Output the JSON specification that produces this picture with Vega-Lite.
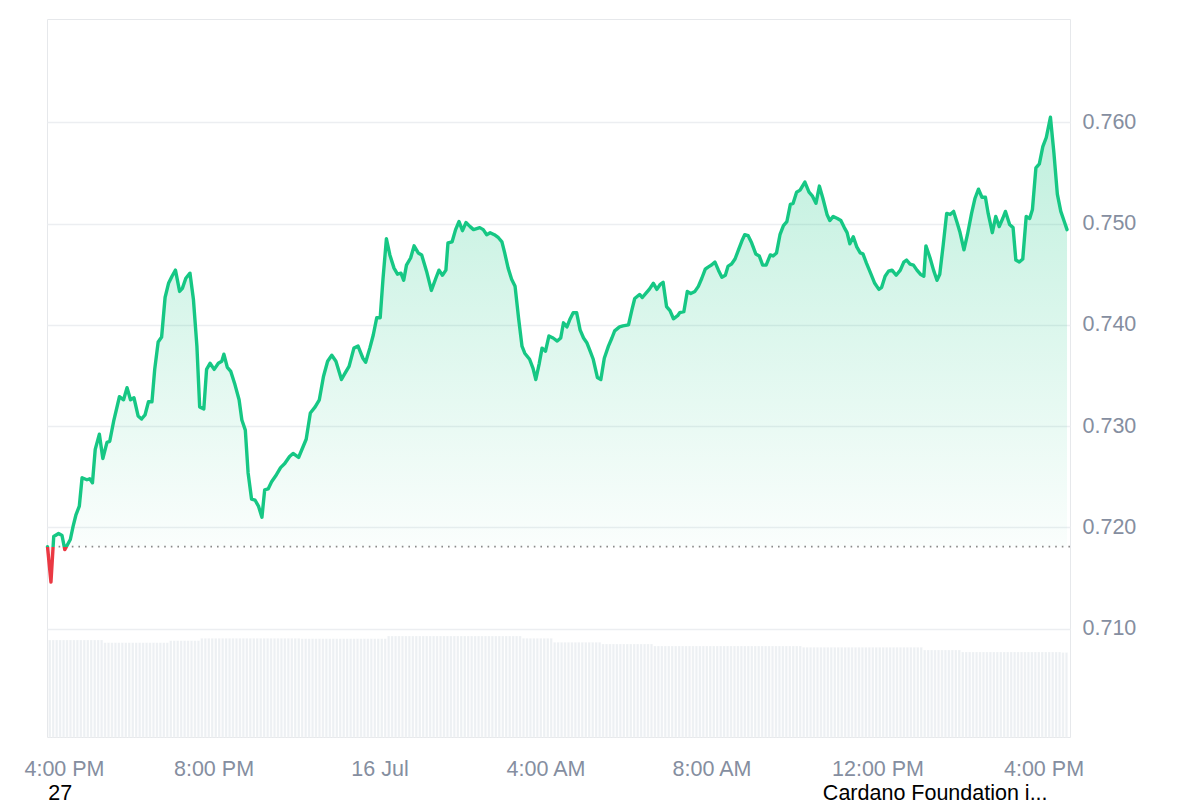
{
  "$schema": "https://vega.github.io/schema/vega-lite/v6.json",
  "width": 1023,
  "height": 718,
  "autosize": {"type": "none"},
  "padding": {"left": 47, "top": 19, "right": 130, "bottom": 63},
  "background": "#ffffff",
  "config": {
    "font": "Liberation Sans",
    "view": {"stroke": "#e6e8eb", "strokeWidth": 1}
  },
  "datasets": {
    "price": [
      {"t":"2025-07-15T16:00Z","p":0.7181},{"t":"2025-07-15T16:05Z","p":0.7146},{"t":"2025-07-15T16:09Z","p":0.7191},{"t":"2025-07-15T16:16Z","p":0.7194},
      {"t":"2025-07-15T16:21Z","p":0.7192},{"t":"2025-07-15T16:25Z","p":0.7178},{"t":"2025-07-15T16:33Z","p":0.7188},{"t":"2025-07-15T16:37Z","p":0.7201},
      {"t":"2025-07-15T16:41Z","p":0.7212},{"t":"2025-07-15T16:46Z","p":0.7221},{"t":"2025-07-15T16:50Z","p":0.7249},{"t":"2025-07-15T16:57Z","p":0.7247},
      {"t":"2025-07-15T17:01Z","p":0.7248},{"t":"2025-07-15T17:05Z","p":0.7244},{"t":"2025-07-15T17:09Z","p":0.7277},{"t":"2025-07-15T17:15Z","p":0.7292},
      {"t":"2025-07-15T17:20Z","p":0.7268},{"t":"2025-07-15T17:26Z","p":0.7284},{"t":"2025-07-15T17:30Z","p":0.7285},{"t":"2025-07-15T17:36Z","p":0.7306},
      {"t":"2025-07-15T17:44Z","p":0.7329},{"t":"2025-07-15T17:50Z","p":0.7326},{"t":"2025-07-15T17:55Z","p":0.7338},{"t":"2025-07-15T18:00Z","p":0.7326},
      {"t":"2025-07-15T18:05Z","p":0.7328},{"t":"2025-07-15T18:11Z","p":0.7310},{"t":"2025-07-15T18:16Z","p":0.7307},{"t":"2025-07-15T18:21Z","p":0.7311},
      {"t":"2025-07-15T18:26Z","p":0.7324},{"t":"2025-07-15T18:31Z","p":0.7324},{"t":"2025-07-15T18:35Z","p":0.7356},{"t":"2025-07-15T18:40Z","p":0.7383},
      {"t":"2025-07-15T18:45Z","p":0.7388},{"t":"2025-07-15T18:50Z","p":0.7427},{"t":"2025-07-15T18:55Z","p":0.7441},{"t":"2025-07-15T19:00Z","p":0.7448},
      {"t":"2025-07-15T19:05Z","p":0.7454},{"t":"2025-07-15T19:11Z","p":0.7433},{"t":"2025-07-15T19:15Z","p":0.7436},{"t":"2025-07-15T19:20Z","p":0.7446},
      {"t":"2025-07-15T19:26Z","p":0.7451},{"t":"2025-07-15T19:31Z","p":0.7425},{"t":"2025-07-15T19:36Z","p":0.7379},{"t":"2025-07-15T19:40Z","p":0.7319},
      {"t":"2025-07-15T19:46Z","p":0.7317},{"t":"2025-07-15T19:50Z","p":0.7356},{"t":"2025-07-15T19:55Z","p":0.7362},{"t":"2025-07-15T20:01Z","p":0.7356},
      {"t":"2025-07-15T20:07Z","p":0.7362},{"t":"2025-07-15T20:12Z","p":0.7364},{"t":"2025-07-15T20:15Z","p":0.7371},{"t":"2025-07-15T20:20Z","p":0.7358},
      {"t":"2025-07-15T20:25Z","p":0.7354},{"t":"2025-07-15T20:31Z","p":0.7341},{"t":"2025-07-15T20:37Z","p":0.7326},{"t":"2025-07-15T20:41Z","p":0.7306},
      {"t":"2025-07-15T20:46Z","p":0.7296},{"t":"2025-07-15T20:50Z","p":0.7254},{"t":"2025-07-15T20:55Z","p":0.7228},{"t":"2025-07-15T21:00Z","p":0.7227},
      {"t":"2025-07-15T21:05Z","p":0.7221},{"t":"2025-07-15T21:10Z","p":0.7210},{"t":"2025-07-15T21:14Z","p":0.7237},{"t":"2025-07-15T21:19Z","p":0.7238},
      {"t":"2025-07-15T21:24Z","p":0.7245},{"t":"2025-07-15T21:31Z","p":0.7252},{"t":"2025-07-15T21:37Z","p":0.7259},{"t":"2025-07-15T21:43Z","p":0.7263},
      {"t":"2025-07-15T21:50Z","p":0.7270},{"t":"2025-07-15T21:55Z","p":0.7273},{"t":"2025-07-15T22:03Z","p":0.7269},{"t":"2025-07-15T22:14Z","p":0.7287},
      {"t":"2025-07-15T22:20Z","p":0.7313},{"t":"2025-07-15T22:27Z","p":0.7319},{"t":"2025-07-15T22:33Z","p":0.7326},{"t":"2025-07-15T22:39Z","p":0.7349},
      {"t":"2025-07-15T22:45Z","p":0.7364},{"t":"2025-07-15T22:51Z","p":0.7370},{"t":"2025-07-15T22:57Z","p":0.7364},{"t":"2025-07-15T23:05Z","p":0.7346},
      {"t":"2025-07-15T23:10Z","p":0.7352},{"t":"2025-07-15T23:16Z","p":0.7359},{"t":"2025-07-15T23:23Z","p":0.7377},{"t":"2025-07-15T23:29Z","p":0.7379},
      {"t":"2025-07-15T23:36Z","p":0.7367},{"t":"2025-07-15T23:40Z","p":0.7363},{"t":"2025-07-15T23:46Z","p":0.7377},{"t":"2025-07-15T23:51Z","p":0.7390},
      {"t":"2025-07-15T23:56Z","p":0.7407},{"t":"2025-07-16T00:01Z","p":0.7407},{"t":"2025-07-16T00:05Z","p":0.7445},{"t":"2025-07-16T00:10Z","p":0.7485},
      {"t":"2025-07-16T00:15Z","p":0.7469},{"t":"2025-07-16T00:21Z","p":0.7456},{"t":"2025-07-16T00:26Z","p":0.7450},{"t":"2025-07-16T00:31Z","p":0.7451},
      {"t":"2025-07-16T00:35Z","p":0.7444},{"t":"2025-07-16T00:39Z","p":0.7459},{"t":"2025-07-16T00:45Z","p":0.7466},{"t":"2025-07-16T00:50Z","p":0.7478},
      {"t":"2025-07-16T00:56Z","p":0.7471},{"t":"2025-07-16T01:01Z","p":0.7469},{"t":"2025-07-16T01:08Z","p":0.7453},{"t":"2025-07-16T01:15Z","p":0.7434},
      {"t":"2025-07-16T01:22Z","p":0.7447},{"t":"2025-07-16T01:26Z","p":0.7454},{"t":"2025-07-16T01:31Z","p":0.7449},{"t":"2025-07-16T01:36Z","p":0.7454},
      {"t":"2025-07-16T01:39Z","p":0.7481},{"t":"2025-07-16T01:45Z","p":0.7482},{"t":"2025-07-16T01:50Z","p":0.7494},{"t":"2025-07-16T01:55Z","p":0.7502},
      {"t":"2025-07-16T02:00Z","p":0.7493},{"t":"2025-07-16T02:05Z","p":0.7501},{"t":"2025-07-16T02:11Z","p":0.7497},{"t":"2025-07-16T02:16Z","p":0.7494},
      {"t":"2025-07-16T02:25Z","p":0.7496},{"t":"2025-07-16T02:30Z","p":0.7494},{"t":"2025-07-16T02:35Z","p":0.7489},{"t":"2025-07-16T02:40Z","p":0.7491},
      {"t":"2025-07-16T02:46Z","p":0.7489},{"t":"2025-07-16T02:52Z","p":0.7486},{"t":"2025-07-16T02:57Z","p":0.7482},{"t":"2025-07-16T03:01Z","p":0.7471},
      {"t":"2025-07-16T03:06Z","p":0.7456},{"t":"2025-07-16T03:11Z","p":0.7445},{"t":"2025-07-16T03:16Z","p":0.7438},{"t":"2025-07-16T03:21Z","p":0.7407},
      {"t":"2025-07-16T03:26Z","p":0.7379},{"t":"2025-07-16T03:30Z","p":0.7372},{"t":"2025-07-16T03:37Z","p":0.7366},{"t":"2025-07-16T03:42Z","p":0.7357},
      {"t":"2025-07-16T03:46Z","p":0.7346},{"t":"2025-07-16T03:51Z","p":0.7362},{"t":"2025-07-16T03:55Z","p":0.7377},{"t":"2025-07-16T04:00Z","p":0.7374},
      {"t":"2025-07-16T04:05Z","p":0.7389},{"t":"2025-07-16T04:11Z","p":0.7387},{"t":"2025-07-16T04:17Z","p":0.7384},{"t":"2025-07-16T04:22Z","p":0.7387},
      {"t":"2025-07-16T04:26Z","p":0.7402},{"t":"2025-07-16T04:31Z","p":0.7398},{"t":"2025-07-16T04:35Z","p":0.7405},{"t":"2025-07-16T04:40Z","p":0.7412},
      {"t":"2025-07-16T04:45Z","p":0.7412},{"t":"2025-07-16T04:50Z","p":0.7395},{"t":"2025-07-16T04:55Z","p":0.7387},{"t":"2025-07-16T05:00Z","p":0.7382},
      {"t":"2025-07-16T05:04Z","p":0.7375},{"t":"2025-07-16T05:09Z","p":0.7366},{"t":"2025-07-16T05:15Z","p":0.7348},{"t":"2025-07-16T05:20Z","p":0.7346},
      {"t":"2025-07-16T05:25Z","p":0.7367},{"t":"2025-07-16T05:31Z","p":0.7379},{"t":"2025-07-16T05:36Z","p":0.7387},{"t":"2025-07-16T05:40Z","p":0.7394},
      {"t":"2025-07-16T05:47Z","p":0.7398},{"t":"2025-07-16T05:52Z","p":0.7399},{"t":"2025-07-16T06:00Z","p":0.7400},{"t":"2025-07-16T06:05Z","p":0.7415},
      {"t":"2025-07-16T06:09Z","p":0.7426},{"t":"2025-07-16T06:16Z","p":0.7430},{"t":"2025-07-16T06:20Z","p":0.7427},{"t":"2025-07-16T06:25Z","p":0.7431},
      {"t":"2025-07-16T06:30Z","p":0.7435},{"t":"2025-07-16T06:36Z","p":0.7441},{"t":"2025-07-16T06:41Z","p":0.7435},{"t":"2025-07-16T06:46Z","p":0.7440},
      {"t":"2025-07-16T06:50Z","p":0.7442},{"t":"2025-07-16T06:55Z","p":0.7418},{"t":"2025-07-16T07:00Z","p":0.7414},{"t":"2025-07-16T07:05Z","p":0.7406},
      {"t":"2025-07-16T07:11Z","p":0.7409},{"t":"2025-07-16T07:14Z","p":0.7412},{"t":"2025-07-16T07:20Z","p":0.7413},{"t":"2025-07-16T07:25Z","p":0.7433},
      {"t":"2025-07-16T07:30Z","p":0.7431},{"t":"2025-07-16T07:36Z","p":0.7433},{"t":"2025-07-16T07:41Z","p":0.7438},{"t":"2025-07-16T07:46Z","p":0.7446},
      {"t":"2025-07-16T07:51Z","p":0.7455},{"t":"2025-07-16T07:55Z","p":0.7457},{"t":"2025-07-16T08:00Z","p":0.7459},{"t":"2025-07-16T08:05Z","p":0.7462},
      {"t":"2025-07-16T08:10Z","p":0.7454},{"t":"2025-07-16T08:15Z","p":0.7447},{"t":"2025-07-16T08:20Z","p":0.7449},{"t":"2025-07-16T08:24Z","p":0.7458},
      {"t":"2025-07-16T08:29Z","p":0.7460},{"t":"2025-07-16T08:34Z","p":0.7465},{"t":"2025-07-16T08:39Z","p":0.7474},{"t":"2025-07-16T08:44Z","p":0.7483},
      {"t":"2025-07-16T08:48Z","p":0.7489},{"t":"2025-07-16T08:53Z","p":0.7488},{"t":"2025-07-16T08:58Z","p":0.7481},{"t":"2025-07-16T09:04Z","p":0.7470},
      {"t":"2025-07-16T09:09Z","p":0.7468},{"t":"2025-07-16T09:14Z","p":0.7459},{"t":"2025-07-16T09:19Z","p":0.7459},{"t":"2025-07-16T09:25Z","p":0.7469},
      {"t":"2025-07-16T09:29Z","p":0.7468},{"t":"2025-07-16T09:34Z","p":0.7471},{"t":"2025-07-16T09:39Z","p":0.7489},{"t":"2025-07-16T09:44Z","p":0.7498},
      {"t":"2025-07-16T09:49Z","p":0.7502},{"t":"2025-07-16T09:54Z","p":0.7519},{"t":"2025-07-16T09:58Z","p":0.7520},{"t":"2025-07-16T10:03Z","p":0.7531},
      {"t":"2025-07-16T10:08Z","p":0.7533},{"t":"2025-07-16T10:15Z","p":0.7541},{"t":"2025-07-16T10:21Z","p":0.7531},{"t":"2025-07-16T10:26Z","p":0.7527},
      {"t":"2025-07-16T10:31Z","p":0.7520},{"t":"2025-07-16T10:36Z","p":0.7537},{"t":"2025-07-16T10:41Z","p":0.7525},{"t":"2025-07-16T10:47Z","p":0.7509},
      {"t":"2025-07-16T10:51Z","p":0.7503},{"t":"2025-07-16T10:56Z","p":0.7507},{"t":"2025-07-16T11:02Z","p":0.7505},{"t":"2025-07-16T11:07Z","p":0.7503},
      {"t":"2025-07-16T11:12Z","p":0.7496},{"t":"2025-07-16T11:16Z","p":0.7491},{"t":"2025-07-16T11:20Z","p":0.7480},{"t":"2025-07-16T11:25Z","p":0.7487},
      {"t":"2025-07-16T11:30Z","p":0.7477},{"t":"2025-07-16T11:35Z","p":0.7471},{"t":"2025-07-16T11:39Z","p":0.7470},{"t":"2025-07-16T11:44Z","p":0.7461},
      {"t":"2025-07-16T11:50Z","p":0.7451},{"t":"2025-07-16T11:56Z","p":0.7441},{"t":"2025-07-16T12:02Z","p":0.7435},{"t":"2025-07-16T12:06Z","p":0.7437},
      {"t":"2025-07-16T12:11Z","p":0.7448},{"t":"2025-07-16T12:16Z","p":0.7453},{"t":"2025-07-16T12:21Z","p":0.7454},{"t":"2025-07-16T12:27Z","p":0.7449},
      {"t":"2025-07-16T12:33Z","p":0.7454},{"t":"2025-07-16T12:38Z","p":0.7462},{"t":"2025-07-16T12:42Z","p":0.7464},{"t":"2025-07-16T12:47Z","p":0.7460},
      {"t":"2025-07-16T12:52Z","p":0.7459},{"t":"2025-07-16T12:57Z","p":0.7454},{"t":"2025-07-16T13:02Z","p":0.7450},{"t":"2025-07-16T13:07Z","p":0.7448},
      {"t":"2025-07-16T13:10Z","p":0.7478},{"t":"2025-07-16T13:16Z","p":0.7466},{"t":"2025-07-16T13:21Z","p":0.7454},{"t":"2025-07-16T13:26Z","p":0.7444},
      {"t":"2025-07-16T13:30Z","p":0.7450},{"t":"2025-07-16T13:35Z","p":0.7479},{"t":"2025-07-16T13:40Z","p":0.7510},{"t":"2025-07-16T13:45Z","p":0.7509},
      {"t":"2025-07-16T13:50Z","p":0.7512},{"t":"2025-07-16T13:55Z","p":0.7501},{"t":"2025-07-16T13:59Z","p":0.7492},{"t":"2025-07-16T14:05Z","p":0.7474},
      {"t":"2025-07-16T14:10Z","p":0.7489},{"t":"2025-07-16T14:16Z","p":0.7510},{"t":"2025-07-16T14:21Z","p":0.7525},{"t":"2025-07-16T14:26Z","p":0.7534},
      {"t":"2025-07-16T14:31Z","p":0.7526},{"t":"2025-07-16T14:36Z","p":0.7526},{"t":"2025-07-16T14:40Z","p":0.7510},{"t":"2025-07-16T14:46Z","p":0.7491},
      {"t":"2025-07-16T14:51Z","p":0.7507},{"t":"2025-07-16T14:56Z","p":0.7497},{"t":"2025-07-16T15:01Z","p":0.7505},{"t":"2025-07-16T15:05Z","p":0.7512},
      {"t":"2025-07-16T15:11Z","p":0.7499},{"t":"2025-07-16T15:16Z","p":0.7496},{"t":"2025-07-16T15:20Z","p":0.7464},{"t":"2025-07-16T15:25Z","p":0.7462},
      {"t":"2025-07-16T15:30Z","p":0.7465},{"t":"2025-07-16T15:35Z","p":0.7507},{"t":"2025-07-16T15:40Z","p":0.7505},{"t":"2025-07-16T15:44Z","p":0.7514},
      {"t":"2025-07-16T15:49Z","p":0.7555},{"t":"2025-07-16T15:54Z","p":0.7559},{"t":"2025-07-16T15:59Z","p":0.7576},{"t":"2025-07-16T16:04Z","p":0.7585},
      {"t":"2025-07-16T16:10Z","p":0.7605},{"t":"2025-07-16T16:15Z","p":0.7570},{"t":"2025-07-16T16:20Z","p":0.7529},{"t":"2025-07-16T16:25Z","p":0.7512},
      {"t":"2025-07-16T16:30Z","p":0.7502},{"t":"2025-07-16T16:34Z","p":0.7494}
    ],
    "vol": [
      {"t":"2025-07-15T16:00Z","v":970},{"t":"2025-07-15T16:05Z","v":970},{"t":"2025-07-15T16:10Z","v":970},{"t":"2025-07-15T16:15Z","v":970},
      {"t":"2025-07-15T16:20Z","v":970},{"t":"2025-07-15T16:25Z","v":970},{"t":"2025-07-15T16:30Z","v":970},{"t":"2025-07-15T16:35Z","v":970},
      {"t":"2025-07-15T16:40Z","v":970},{"t":"2025-07-15T16:45Z","v":970},{"t":"2025-07-15T16:50Z","v":970},{"t":"2025-07-15T16:55Z","v":970},
      {"t":"2025-07-15T17:00Z","v":970},{"t":"2025-07-15T17:05Z","v":970},{"t":"2025-07-15T17:10Z","v":970},{"t":"2025-07-15T17:15Z","v":970},
      {"t":"2025-07-15T17:20Z","v":943},{"t":"2025-07-15T17:25Z","v":943},{"t":"2025-07-15T17:30Z","v":943},{"t":"2025-07-15T17:35Z","v":943},
      {"t":"2025-07-15T17:40Z","v":943},{"t":"2025-07-15T17:45Z","v":943},{"t":"2025-07-15T17:50Z","v":943},{"t":"2025-07-15T17:55Z","v":943},
      {"t":"2025-07-15T18:00Z","v":943},{"t":"2025-07-15T18:05Z","v":943},{"t":"2025-07-15T18:10Z","v":943},{"t":"2025-07-15T18:15Z","v":943},
      {"t":"2025-07-15T18:20Z","v":943},{"t":"2025-07-15T18:25Z","v":943},{"t":"2025-07-15T18:30Z","v":943},{"t":"2025-07-15T18:35Z","v":943},
      {"t":"2025-07-15T18:40Z","v":943},{"t":"2025-07-15T18:45Z","v":943},{"t":"2025-07-15T18:50Z","v":943},{"t":"2025-07-15T18:55Z","v":963},
      {"t":"2025-07-15T19:00Z","v":963},{"t":"2025-07-15T19:05Z","v":963},{"t":"2025-07-15T19:10Z","v":963},{"t":"2025-07-15T19:15Z","v":963},
      {"t":"2025-07-15T19:20Z","v":963},{"t":"2025-07-15T19:25Z","v":963},{"t":"2025-07-15T19:30Z","v":963},{"t":"2025-07-15T19:35Z","v":963},
      {"t":"2025-07-15T19:40Z","v":987},{"t":"2025-07-15T19:45Z","v":987},{"t":"2025-07-15T19:50Z","v":987},{"t":"2025-07-15T19:55Z","v":987},
      {"t":"2025-07-15T20:00Z","v":987},{"t":"2025-07-15T20:05Z","v":987},{"t":"2025-07-15T20:10Z","v":987},{"t":"2025-07-15T20:15Z","v":987},
      {"t":"2025-07-15T20:20Z","v":987},{"t":"2025-07-15T20:25Z","v":987},{"t":"2025-07-15T20:30Z","v":987},{"t":"2025-07-15T20:35Z","v":987},
      {"t":"2025-07-15T20:40Z","v":987},{"t":"2025-07-15T20:45Z","v":987},{"t":"2025-07-15T20:50Z","v":987},{"t":"2025-07-15T20:55Z","v":987},
      {"t":"2025-07-15T21:00Z","v":987},{"t":"2025-07-15T21:05Z","v":987},{"t":"2025-07-15T21:10Z","v":987},{"t":"2025-07-15T21:15Z","v":987},
      {"t":"2025-07-15T21:20Z","v":987},{"t":"2025-07-15T21:25Z","v":987},{"t":"2025-07-15T21:30Z","v":987},{"t":"2025-07-15T21:35Z","v":987},
      {"t":"2025-07-15T21:40Z","v":987},{"t":"2025-07-15T21:45Z","v":987},{"t":"2025-07-15T21:50Z","v":987},{"t":"2025-07-15T21:55Z","v":987},
      {"t":"2025-07-15T22:00Z","v":987},{"t":"2025-07-15T22:05Z","v":983},{"t":"2025-07-15T22:10Z","v":983},{"t":"2025-07-15T22:15Z","v":983},
      {"t":"2025-07-15T22:20Z","v":983},{"t":"2025-07-15T22:25Z","v":983},{"t":"2025-07-15T22:30Z","v":983},{"t":"2025-07-15T22:35Z","v":983},
      {"t":"2025-07-15T22:40Z","v":983},{"t":"2025-07-15T22:45Z","v":983},{"t":"2025-07-15T22:50Z","v":983},{"t":"2025-07-15T22:55Z","v":983},
      {"t":"2025-07-15T23:00Z","v":983},{"t":"2025-07-15T23:05Z","v":983},{"t":"2025-07-15T23:10Z","v":983},{"t":"2025-07-15T23:15Z","v":983},
      {"t":"2025-07-15T23:20Z","v":983},{"t":"2025-07-15T23:25Z","v":983},{"t":"2025-07-15T23:30Z","v":983},{"t":"2025-07-15T23:35Z","v":983},
      {"t":"2025-07-15T23:40Z","v":983},{"t":"2025-07-15T23:45Z","v":983},{"t":"2025-07-15T23:50Z","v":983},{"t":"2025-07-15T23:55Z","v":983},
      {"t":"2025-07-16T00:00Z","v":983},{"t":"2025-07-16T00:05Z","v":983},{"t":"2025-07-16T00:10Z","v":1010},{"t":"2025-07-16T00:15Z","v":1010},
      {"t":"2025-07-16T00:20Z","v":1010},{"t":"2025-07-16T00:25Z","v":1010},{"t":"2025-07-16T00:30Z","v":1010},{"t":"2025-07-16T00:35Z","v":1010},
      {"t":"2025-07-16T00:40Z","v":1010},{"t":"2025-07-16T00:45Z","v":1010},{"t":"2025-07-16T00:50Z","v":1010},{"t":"2025-07-16T00:55Z","v":1010},
      {"t":"2025-07-16T01:00Z","v":1010},{"t":"2025-07-16T01:05Z","v":1010},{"t":"2025-07-16T01:10Z","v":1010},{"t":"2025-07-16T01:15Z","v":1010},
      {"t":"2025-07-16T01:20Z","v":1010},{"t":"2025-07-16T01:25Z","v":1010},{"t":"2025-07-16T01:30Z","v":1010},{"t":"2025-07-16T01:35Z","v":1010},
      {"t":"2025-07-16T01:40Z","v":1010},{"t":"2025-07-16T01:45Z","v":1010},{"t":"2025-07-16T01:50Z","v":1010},{"t":"2025-07-16T01:55Z","v":1010},
      {"t":"2025-07-16T02:00Z","v":1010},{"t":"2025-07-16T02:05Z","v":1010},{"t":"2025-07-16T02:10Z","v":1010},{"t":"2025-07-16T02:15Z","v":1010},
      {"t":"2025-07-16T02:20Z","v":1010},{"t":"2025-07-16T02:25Z","v":1010},{"t":"2025-07-16T02:30Z","v":1010},{"t":"2025-07-16T02:35Z","v":1010},
      {"t":"2025-07-16T02:40Z","v":1010},{"t":"2025-07-16T02:45Z","v":1010},{"t":"2025-07-16T02:50Z","v":1010},{"t":"2025-07-16T02:55Z","v":1010},
      {"t":"2025-07-16T03:00Z","v":1010},{"t":"2025-07-16T03:05Z","v":1010},{"t":"2025-07-16T03:10Z","v":1010},{"t":"2025-07-16T03:15Z","v":1010},
      {"t":"2025-07-16T03:20Z","v":1010},{"t":"2025-07-16T03:25Z","v":987},{"t":"2025-07-16T03:30Z","v":987},{"t":"2025-07-16T03:35Z","v":987},
      {"t":"2025-07-16T03:40Z","v":987},{"t":"2025-07-16T03:45Z","v":987},{"t":"2025-07-16T03:50Z","v":987},{"t":"2025-07-16T03:55Z","v":987},
      {"t":"2025-07-16T04:00Z","v":987},{"t":"2025-07-16T04:05Z","v":987},{"t":"2025-07-16T04:10Z","v":947},{"t":"2025-07-16T04:15Z","v":947},
      {"t":"2025-07-16T04:20Z","v":947},{"t":"2025-07-16T04:25Z","v":947},{"t":"2025-07-16T04:30Z","v":947},{"t":"2025-07-16T04:35Z","v":947},
      {"t":"2025-07-16T04:40Z","v":947},{"t":"2025-07-16T04:45Z","v":947},{"t":"2025-07-16T04:50Z","v":947},{"t":"2025-07-16T04:55Z","v":947},
      {"t":"2025-07-16T05:00Z","v":947},{"t":"2025-07-16T05:05Z","v":947},{"t":"2025-07-16T05:10Z","v":947},{"t":"2025-07-16T05:15Z","v":947},
      {"t":"2025-07-16T05:20Z","v":930},{"t":"2025-07-16T05:25Z","v":930},{"t":"2025-07-16T05:30Z","v":930},{"t":"2025-07-16T05:35Z","v":930},
      {"t":"2025-07-16T05:40Z","v":930},{"t":"2025-07-16T05:45Z","v":930},{"t":"2025-07-16T05:50Z","v":930},{"t":"2025-07-16T05:55Z","v":930},
      {"t":"2025-07-16T06:00Z","v":930},{"t":"2025-07-16T06:05Z","v":930},{"t":"2025-07-16T06:10Z","v":930},{"t":"2025-07-16T06:15Z","v":930},
      {"t":"2025-07-16T06:20Z","v":930},{"t":"2025-07-16T06:25Z","v":930},{"t":"2025-07-16T06:30Z","v":930},{"t":"2025-07-16T06:35Z","v":910},
      {"t":"2025-07-16T06:40Z","v":910},{"t":"2025-07-16T06:45Z","v":910},{"t":"2025-07-16T06:50Z","v":910},{"t":"2025-07-16T06:55Z","v":910},
      {"t":"2025-07-16T07:00Z","v":910},{"t":"2025-07-16T07:05Z","v":910},{"t":"2025-07-16T07:10Z","v":910},{"t":"2025-07-16T07:15Z","v":910},
      {"t":"2025-07-16T07:20Z","v":910},{"t":"2025-07-16T07:25Z","v":910},{"t":"2025-07-16T07:30Z","v":910},{"t":"2025-07-16T07:35Z","v":910},
      {"t":"2025-07-16T07:40Z","v":910},{"t":"2025-07-16T07:45Z","v":910},{"t":"2025-07-16T07:50Z","v":910},{"t":"2025-07-16T07:55Z","v":910},
      {"t":"2025-07-16T08:00Z","v":910},{"t":"2025-07-16T08:05Z","v":910},{"t":"2025-07-16T08:10Z","v":910},{"t":"2025-07-16T08:15Z","v":910},
      {"t":"2025-07-16T08:20Z","v":910},{"t":"2025-07-16T08:25Z","v":910},{"t":"2025-07-16T08:30Z","v":910},{"t":"2025-07-16T08:35Z","v":910},
      {"t":"2025-07-16T08:40Z","v":910},{"t":"2025-07-16T08:45Z","v":910},{"t":"2025-07-16T08:50Z","v":910},{"t":"2025-07-16T08:55Z","v":910},
      {"t":"2025-07-16T09:00Z","v":910},{"t":"2025-07-16T09:05Z","v":910},{"t":"2025-07-16T09:10Z","v":910},{"t":"2025-07-16T09:15Z","v":910},
      {"t":"2025-07-16T09:20Z","v":910},{"t":"2025-07-16T09:25Z","v":910},{"t":"2025-07-16T09:30Z","v":910},{"t":"2025-07-16T09:35Z","v":910},
      {"t":"2025-07-16T09:40Z","v":910},{"t":"2025-07-16T09:45Z","v":910},{"t":"2025-07-16T09:50Z","v":910},{"t":"2025-07-16T09:55Z","v":910},
      {"t":"2025-07-16T10:00Z","v":910},{"t":"2025-07-16T10:05Z","v":910},{"t":"2025-07-16T10:10Z","v":897},{"t":"2025-07-16T10:15Z","v":897},
      {"t":"2025-07-16T10:20Z","v":897},{"t":"2025-07-16T10:25Z","v":897},{"t":"2025-07-16T10:30Z","v":897},{"t":"2025-07-16T10:35Z","v":897},
      {"t":"2025-07-16T10:40Z","v":897},{"t":"2025-07-16T10:45Z","v":897},{"t":"2025-07-16T10:50Z","v":897},{"t":"2025-07-16T10:55Z","v":897},
      {"t":"2025-07-16T11:00Z","v":897},{"t":"2025-07-16T11:05Z","v":897},{"t":"2025-07-16T11:10Z","v":897},{"t":"2025-07-16T11:15Z","v":897},
      {"t":"2025-07-16T11:20Z","v":897},{"t":"2025-07-16T11:25Z","v":897},{"t":"2025-07-16T11:30Z","v":897},{"t":"2025-07-16T11:35Z","v":897},
      {"t":"2025-07-16T11:40Z","v":897},{"t":"2025-07-16T11:45Z","v":897},{"t":"2025-07-16T11:50Z","v":897},{"t":"2025-07-16T11:55Z","v":897},
      {"t":"2025-07-16T12:00Z","v":897},{"t":"2025-07-16T12:05Z","v":897},{"t":"2025-07-16T12:10Z","v":897},{"t":"2025-07-16T12:15Z","v":897},
      {"t":"2025-07-16T12:20Z","v":897},{"t":"2025-07-16T12:25Z","v":897},{"t":"2025-07-16T12:30Z","v":897},{"t":"2025-07-16T12:35Z","v":897},
      {"t":"2025-07-16T12:40Z","v":897},{"t":"2025-07-16T12:45Z","v":897},{"t":"2025-07-16T12:50Z","v":897},{"t":"2025-07-16T12:55Z","v":897},
      {"t":"2025-07-16T13:00Z","v":897},{"t":"2025-07-16T13:05Z","v":870},{"t":"2025-07-16T13:10Z","v":870},{"t":"2025-07-16T13:15Z","v":870},
      {"t":"2025-07-16T13:20Z","v":870},{"t":"2025-07-16T13:25Z","v":870},{"t":"2025-07-16T13:30Z","v":870},{"t":"2025-07-16T13:35Z","v":870},
      {"t":"2025-07-16T13:40Z","v":870},{"t":"2025-07-16T13:45Z","v":870},{"t":"2025-07-16T13:50Z","v":870},{"t":"2025-07-16T13:55Z","v":870},
      {"t":"2025-07-16T14:00Z","v":850},{"t":"2025-07-16T14:05Z","v":850},{"t":"2025-07-16T14:10Z","v":850},{"t":"2025-07-16T14:15Z","v":850},
      {"t":"2025-07-16T14:20Z","v":850},{"t":"2025-07-16T14:25Z","v":850},{"t":"2025-07-16T14:30Z","v":850},{"t":"2025-07-16T14:35Z","v":850},
      {"t":"2025-07-16T14:40Z","v":850},{"t":"2025-07-16T14:45Z","v":850},{"t":"2025-07-16T14:50Z","v":850},{"t":"2025-07-16T14:55Z","v":850},
      {"t":"2025-07-16T15:00Z","v":850},{"t":"2025-07-16T15:05Z","v":850},{"t":"2025-07-16T15:10Z","v":850},{"t":"2025-07-16T15:15Z","v":850},
      {"t":"2025-07-16T15:20Z","v":850},{"t":"2025-07-16T15:25Z","v":850},{"t":"2025-07-16T15:30Z","v":850},{"t":"2025-07-16T15:35Z","v":850},
      {"t":"2025-07-16T15:40Z","v":850},{"t":"2025-07-16T15:45Z","v":850},{"t":"2025-07-16T15:50Z","v":850},{"t":"2025-07-16T15:55Z","v":850},
      {"t":"2025-07-16T16:00Z","v":850},{"t":"2025-07-16T16:05Z","v":850},{"t":"2025-07-16T16:10Z","v":850},{"t":"2025-07-16T16:15Z","v":850},
      {"t":"2025-07-16T16:20Z","v":850},{"t":"2025-07-16T16:25Z","v":845},{"t":"2025-07-16T16:30Z","v":845}
    ],
    "notes": [
      {"t":"2025-07-15T16:01Z","label":"27"},
      {"t":"2025-07-16T10:41Z","label":"Cardano Foundation i..."}
    ]
  },
  "resolve": {"scale": {"y": "independent"}},
  "layer": [
    {
      "data": {"name": "vol"},
      "mark": {"type": "bar", "fill": "#edf0f3", "stroke": "#ffffff", "strokeWidth": 0.4, "strokeOpacity": 0.7},
      "encoding": {
        "x": {
          "field": "t", "type": "temporal",
          "timeUnit": {"unit": "utcyearmonthdatehoursminutes", "step": 5},
          "scale": {"type": "utc", "nice": false, "domain": [
            {"year": 2025, "month": 7, "date": 15, "hours": 15, "minutes": 59, "seconds": 17, "utc": true},
            {"year": 2025, "month": 7, "date": 16, "hours": 16, "minutes": 38, "seconds": 18, "utc": true}
          ]},
          "axis": {
            "title": null,
            "values": [
              {"year": 2025, "month": 7, "date": 15, "hours": 16, "utc": true},
              {"year": 2025, "month": 7, "date": 15, "hours": 20, "utc": true},
              {"year": 2025, "month": 7, "date": 16, "hours": 0, "utc": true},
              {"year": 2025, "month": 7, "date": 16, "hours": 4, "utc": true},
              {"year": 2025, "month": 7, "date": 16, "hours": 8, "utc": true},
              {"year": 2025, "month": 7, "date": 16, "hours": 12, "utc": true},
              {"year": 2025, "month": 7, "date": 16, "hours": 16, "utc": true}
            ],
            "labelExpr": "utchours(datum.value) == 0 ? utcFormat(datum.value, '%-d %b') : utcFormat(datum.value, '%-I:%M %p')",
            "labelOffset": {"condition": {"test": "utchours(datum.value) == 16 && utcdate(datum.value) == 15", "value": 16.5}, "value": 0},
            "domain": false,
            "ticks": false,
            "grid": false,
            "labelPadding": 21,
            "labelFontSize": 21.5,
            "labelColor": "#858ea0",
            "labelFont": "Liberation Sans",
            "labelFlush": false,
            "labelOverlap": false,
            "labelBound": false
          }
        },
        "y": {"field": "v", "type": "quantitative", "scale": {"domain": [0, 7180], "nice": false, "zero": true}, "axis": null}
      }
    },
    {
      "layer": [
        {
          "data": {"name": "price"},
          "mark": {
            "type": "area",
            "line": false,
            "fill": {
              "gradient": "linear", "x1": 0, "y1": 0, "x2": 0, "y2": 1,
              "stops": [
                {"offset": 0, "color": "rgba(22,199,132,0.28)"},
                {"offset": 0.9237, "color": "rgba(22,199,132,0.02)"},
                {"offset": 0.9238, "color": "rgba(234,57,67,0.06)"},
                {"offset": 1, "color": "rgba(234,57,67,0.3)"}
              ]
            }
          },
          "encoding": {
            "x": {
              "field": "t", "type": "temporal",
              "scale": {"type": "utc", "nice": false, "domain": [
                {"year": 2025, "month": 7, "date": 15, "hours": 15, "minutes": 59, "seconds": 17, "utc": true},
                {"year": 2025, "month": 7, "date": 16, "hours": 16, "minutes": 38, "seconds": 18, "utc": true}
              ]}
            },
            "y": {
              "field": "p", "type": "quantitative",
              "scale": {"domain": [0.6993, 0.7702], "nice": false, "zero": false},
              "axis": {
                "orient": "right",
                "title": null,
                "values": [0.71, 0.72, 0.73, 0.74, 0.75, 0.76],
                "format": ".3f",
                "domain": false,
                "ticks": false,
                "grid": true,
                "gridColor": "#eceef1",
                "gridWidth": 1.3,
                "labelPadding": 12,
                "labelFontSize": 21.5,
                "labelColor": "#858ea0",
                "labelFont": "Liberation Sans"
              }
            },
            "y2": {"datum": 0.7181}
          }
        },
        {
          "data": {"values": [{"base": 0.7181}]},
          "mark": {"type": "rule", "stroke": "#8a8a8a", "strokeWidth": 1.6, "strokeDash": [1.6, 5]},
          "encoding": {
            "y": {"field": "base", "type": "quantitative", "scale": {"domain": [0.6993, 0.7702], "nice": false, "zero": false}}
          }
        },
        {
          "data": {"name": "price"},
          "mark": {
            "type": "line",
            "strokeWidth": 3.4,
            "strokeJoin": "round",
            "strokeCap": "round",
            "stroke": {
              "gradient": "linear", "x1": 0, "y1": 0, "x2": 0, "y2": 1,
              "stops": [
                {"offset": 0, "color": "#16c784"},
                {"offset": 0.9237, "color": "#16c784"},
                {"offset": 0.9238, "color": "#ea3943"},
                {"offset": 1, "color": "#ea3943"}
              ]
            }
          },
          "encoding": {
            "x": {
              "field": "t", "type": "temporal",
              "scale": {"type": "utc", "nice": false, "domain": [
                {"year": 2025, "month": 7, "date": 15, "hours": 15, "minutes": 59, "seconds": 17, "utc": true},
                {"year": 2025, "month": 7, "date": 16, "hours": 16, "minutes": 38, "seconds": 18, "utc": true}
              ]}
            },
            "y": {"field": "p", "type": "quantitative", "scale": {"domain": [0.6993, 0.7702], "nice": false, "zero": false}}
          }
        },
        {
          "data": {"name": "notes"},
          "mark": {"type": "text", "align": "left", "baseline": "alphabetic", "fontSize": 21.5, "font": "Liberation Sans", "color": "#000000", "y": {"expr": "height + 63"}},
          "encoding": {
            "x": {
              "field": "t", "type": "temporal",
              "scale": {"type": "utc", "nice": false, "domain": [
                {"year": 2025, "month": 7, "date": 15, "hours": 15, "minutes": 59, "seconds": 17, "utc": true},
                {"year": 2025, "month": 7, "date": 16, "hours": 16, "minutes": 38, "seconds": 18, "utc": true}
              ]}
            },
            "text": {"field": "label"}
          }
        }
      ]
    }
  ]
}
